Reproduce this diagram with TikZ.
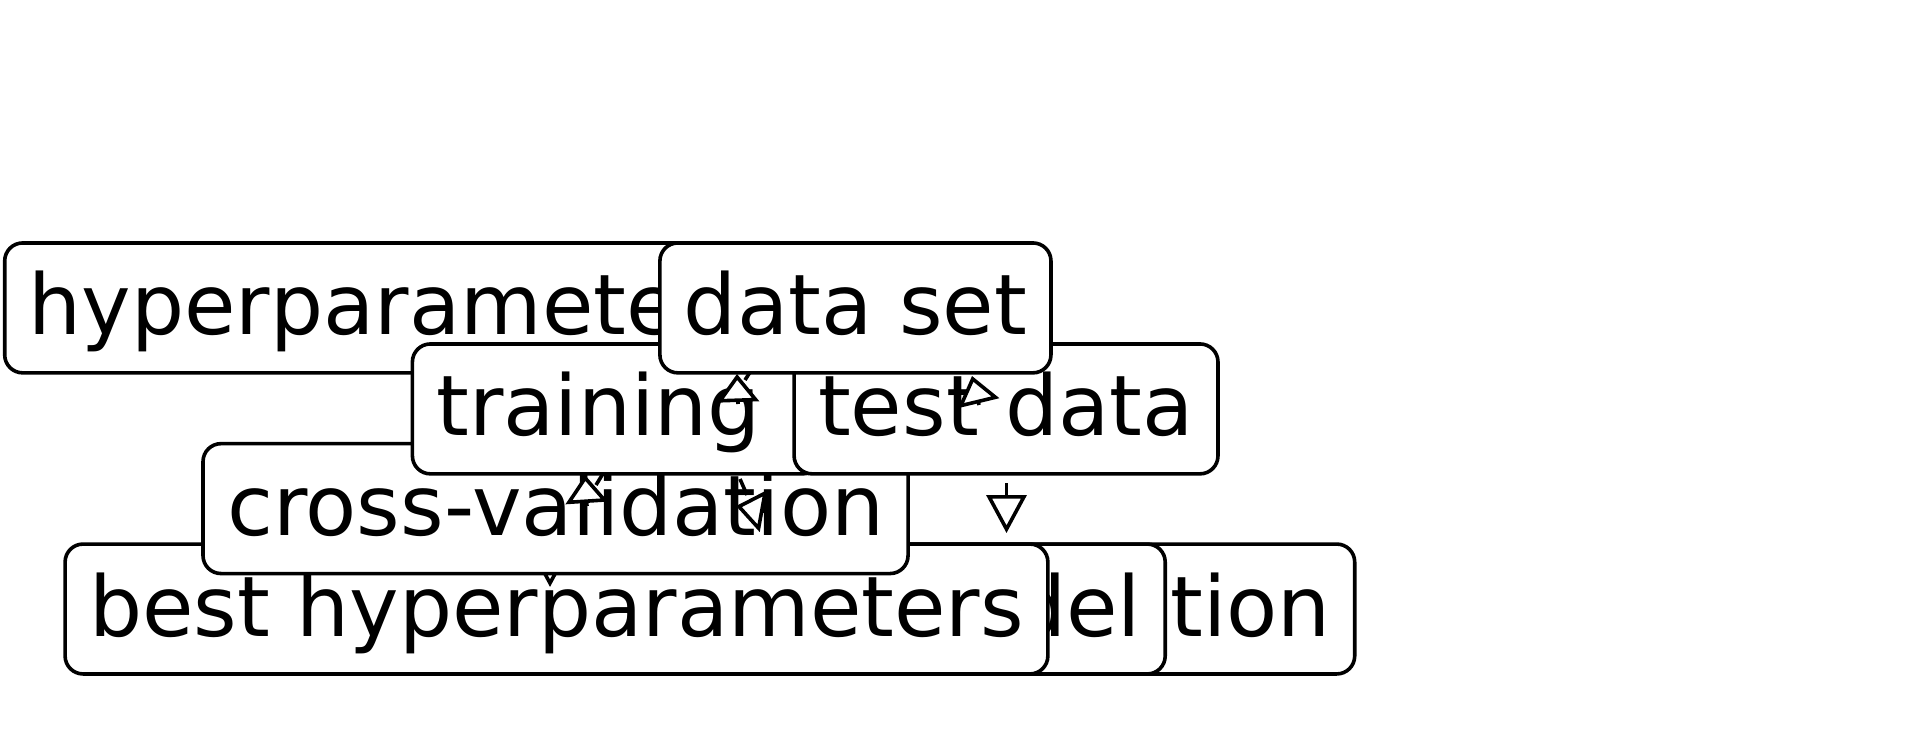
\documentclass[tikz,border=0pt]{standalone}
\usepackage{fontspec}
\setmainfont{DejaVu Sans}
\usetikzlibrary{arrows.meta}
\begin{document}
\begin{tikzpicture}[x=0.5pt,y=-0.5pt,
  box/.style={draw=black, fill=white, line width=1.8pt, rounded corners=9pt,
    minimum height=64.95pt, inner xsep=12pt, inner ysep=0pt,
    text height=31.4pt, text depth=4.35pt,
    font=\fontsize{41.85pt}{50pt}\selectfont},
  link/.style={line width=1.8pt, line join=miter},
  shorthead/.style={link, -{Triangle[length=14pt,width=21pt,fill=white]}},
  longhead/.style={link, -{Triangle[length=19pt,width=20pt,fill=white]}}]
\useasboundingbox (0,0) rectangle (1931,739);

% bottom row, back to front
\node[box, anchor=east] (evalbox) at (1356.5,609) {final evaluation};
\node[box, anchor=east] (retrained) at (1167,609) {retrained model};
\node[box, anchor=west] (besthp) at (63.3,609) {best hyperparameters};

% edge into the best-hyperparameters row
\coordinate (g0) at (550,538);
\coordinate (g1) at (550,587);
\draw[longhead] (g0) -- (g1);

\node[box, anchor=west] (cv) at (201.2,508.6) {cross-validation};

% edges over the cross-validation box
\coordinate (d0) at (587,506);
\coordinate (d1) at (585,475);
\coordinate (d2) at (604,472);
\coordinate (d3) at (596,485);
\draw[link] (d2) -- (d3);
\draw[shorthead] (d0) -- (d1);

\coordinate (e0) at (769,512);
\coordinate (e1) at (736,506);
\coordinate (e2) at (740,479);
\coordinate (e3) at (747,495);
\draw[link] (e2) -- (e3);
\draw[shorthead] (e0) -- (e1);

\node[box, anchor=west] (hp) at (2.9,307.9) {hyperparameters};
\node[box, anchor=west] (training) at (410.6,408.9) {training\kern18pt};
\node[box, anchor=west] (testdata) at (792.3,408.9) {test data};

% edges up to the data set
\coordinate (a0) at (738,404);
\coordinate (a1) at (737,374);
\coordinate (a2) at (754,366);
\coordinate (a3) at (745,380);
\draw[link] (a2) -- (a3);
\draw[shorthead] (a0) -- (a1);

\coordinate (b0) at (979,405);
\coordinate (b1) at (972,376);
\draw[shorthead] (b0) -- (b1);

\node[box, anchor=west] (dataset) at (658.1,307.9) {data set};

% edge below the test data
\coordinate (c0) at (1006.5,483);
\coordinate (c1) at (1006.5,533);
\draw[longhead] (c0) -- (c1);
\end{tikzpicture}
\end{document}
